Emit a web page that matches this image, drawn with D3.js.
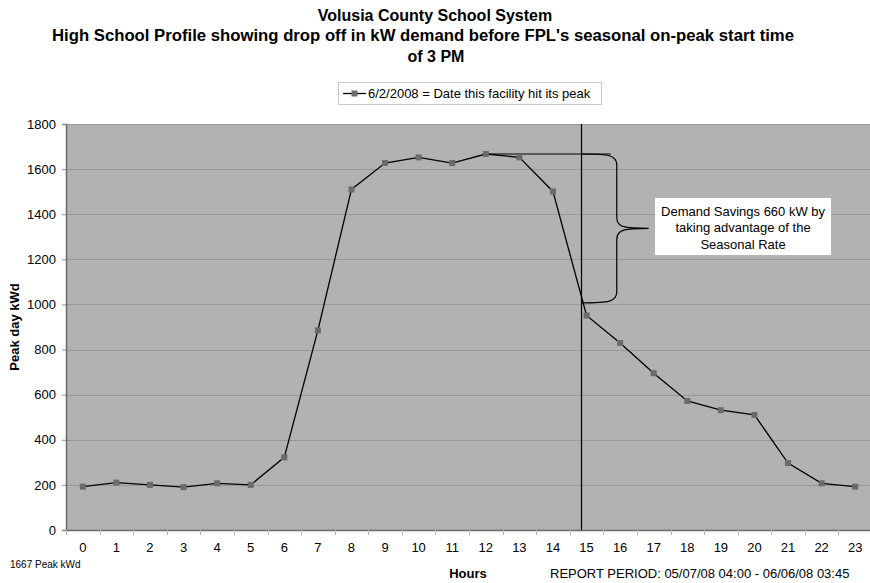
<!DOCTYPE html>
<html>
<head>
<meta charset="utf-8">
<script src="https://cdn.jsdelivr.net/npm/d3@7"></script>
<style>
  html, body { margin: 0; padding: 0; background: #fff; }
  svg { display: block; font-family: "Liberation Sans", Arial, sans-serif; }
</style>
</head>
<body>
<svg id="chart" width="870" height="583"></svg>
<script>
// ---- data ----
const hours = [0,1,2,3,4,5,6,7,8,9,10,11,12,13,14,15,16,17,18,19,20,21,22,23];
const peakDayKWd = [192,210,200,190,207,200,322,885,1510,1627,1652,1627,1667,1652,1501,951,829,695,572,531,510,297,207,192];
const yTicks = [0,200,400,600,800,1000,1200,1400,1600,1800];
const titleLines = [
  "Volusia County School System",
  "High School Profile showing drop off in kW demand before FPL's seasonal on-peak start time",
  "of 3 PM"
];
const legendLabel = "6/2/2008 = Date this facility hit its peak";
const peakValue = 1667;
const savingsValue = 660;
const onPeakStartHour = 14.85;
const annotationLines = ["Demand Savings 660 kW by", "taking advantage of the", "Seasonal Rate"];

// ---- layout ----
const svg = d3.select("#chart");
const plot = { left: 66, top: 124, right: 872, bottom: 530 };

const x = d3.scaleBand().domain(hours).range([plot.left, plot.right]).padding(0);
const xc = h => x(h) + x.bandwidth() / 2;
const xLin = d3.scaleLinear().domain([-0.5, 23.5]).range([plot.left, plot.right]);
const y = d3.scaleLinear().domain([0, 1800]).range([plot.bottom, plot.top]);

// Titles
const titleCx = [435, 423, 436];
svg.append("g").selectAll("text").data(titleLines).join("text")
  .attr("x", (d, i) => titleCx[i]).attr("y", (d, i) => 20.5 + i * 20.5)
  .attr("text-anchor", "middle")
  .attr("font-size", 16).attr("font-weight", "bold").attr("fill", "#000")
  .each(function(d, i) {
    if (i === 1) d3.select(this).attr("textLength", 742).attr("lengthAdjust", "spacingAndGlyphs");
  })
  .text(d => d);

// Legend
const lg = svg.append("g");
lg.append("rect").attr("x", 338.5).attr("y", 82.5).attr("width", 263).attr("height", 22)
  .attr("fill", "#fff").attr("stroke", "#c8c8c8");
lg.append("line").attr("x1", 343).attr("x2", 366).attr("y1", 93.5).attr("y2", 93.5)
  .attr("stroke", "#000").attr("stroke-width", 1.3);
lg.append("rect").attr("x", 351.5).attr("y", 90.5).attr("width", 6).attr("height", 6).attr("fill", "#6b6b6b");
lg.append("text").attr("x", 368).attr("y", 98).attr("font-size", 13).attr("fill", "#000").text(legendLabel);

// Plot background
svg.append("rect").attr("x", plot.left).attr("y", plot.top)
  .attr("width", plot.right - plot.left).attr("height", plot.bottom - plot.top)
  .attr("fill", "#b2b2b2");

// Gridlines
svg.append("g").selectAll("line").data(yTicks.filter(d => d > 0)).join("line")
  .attr("x1", plot.left).attr("x2", plot.right)
  .attr("y1", d => Math.round(y(d)) + 0.5).attr("y2", d => Math.round(y(d)) + 0.5)
  .attr("stroke", "#989898").attr("stroke-width", 1);

// Y axis
const yAxis = d3.axisLeft(y).tickValues(yTicks).tickSize(4).tickPadding(6).tickFormat(d3.format("d"));
const gy = svg.append("g").attr("transform", `translate(${plot.left},0)`).call(yAxis);
gy.select(".domain").attr("stroke", "#6a6a6a").attr("stroke-width", 1.5);
gy.selectAll(".tick line").attr("stroke", "#909090");
gy.selectAll(".tick text").attr("font-size", 13).attr("fill", "#000")
  .attr("font-family", "Liberation Sans, Arial, sans-serif");

// X axis
const xAxis = d3.axisBottom(x).tickSize(0).tickPadding(13);
const gx = svg.append("g").attr("transform", `translate(0,${plot.bottom})`).call(xAxis);
gx.select(".domain").attr("stroke", "#6a6a6a").attr("stroke-width", 1.5);
gx.selectAll(".tick text").attr("font-size", 13).attr("fill", "#000")
  .attr("font-family", "Liberation Sans, Arial, sans-serif");
// Excel-style ticks between categories
gx.append("g").selectAll("line").data(hours).join("line")
  .attr("x1", d => Math.round(x(d)) + 0.5).attr("x2", d => Math.round(x(d)) + 0.5)
  .attr("y1", 0).attr("y2", 5).attr("stroke", "#b8b8b8");

// Axis titles
svg.append("text").attr("transform", `translate(19,${(plot.top + plot.bottom) / 2}) rotate(-90)`)
  .attr("text-anchor", "middle").attr("font-size", 13).attr("font-weight", "bold").text("Peak day kWd");
svg.append("text").attr("x", 468).attr("y", 578).attr("text-anchor", "middle")
  .attr("font-size", 13).attr("font-weight", "bold").text("Hours");
svg.append("text").attr("x", 550).attr("y", 578).attr("font-size", 13)
  .text("REPORT PERIOD: 05/07/08 04:00 - 06/06/08 03:45");
svg.append("text").attr("x", 10).attr("y", 568).attr("font-size", 10)
  .text(peakValue + " Peak kWd");

// Peak reference line
svg.append("line")
  .attr("x1", xc(12)).attr("x2", xLin(15.72))
  .attr("y1", y(peakValue)).attr("y2", y(peakValue))
  .attr("stroke", "#000").attr("stroke-width", 1.2);

// On-peak start vertical line
svg.append("line")
  .attr("x1", xLin(onPeakStartHour)).attr("x2", xLin(onPeakStartHour))
  .attr("y1", plot.top).attr("y2", plot.bottom)
  .attr("stroke", "#000").attr("stroke-width", 1.2);

// Data line
svg.append("path").datum(hours)
  .attr("fill", "none").attr("stroke", "#000").attr("stroke-width", 1.3)
  .attr("d", d3.line().x(h => xc(h)).y((h, i) => y(peakDayKWd[i])));

// Markers
svg.append("g").selectAll("rect").data(hours).join("rect")
  .attr("x", h => xc(h) - 3).attr("y", (h, i) => y(peakDayKWd[i]) - 3)
  .attr("width", 6).attr("height", 6).attr("fill", "#6b6b6b");

// Brace
const bx0 = xLin(onPeakStartHour), bx1 = xLin(15.9), bx2 = xLin(16.85);
const by0 = y(peakValue), by1 = y(peakValue - savingsValue), bym = (by0 + by1) / 2;
const r = 11;
const bracePath = [
  `M${bx0},${by0}`,
  `C${bx1 - 8},${by0} ${bx1},${by0 + 1} ${bx1},${by0 + r}`,
  `L${bx1},${bym - r}`,
  `C${bx1},${bym - 1} ${bx1 + 8},${bym} ${bx2},${bym}`,
  `M${bx2},${bym}`,
  `C${bx1 + 8},${bym} ${bx1},${bym + 1} ${bx1},${bym + r}`,
  `L${bx1},${by1 - r}`,
  `C${bx1},${by1 - 1} ${bx1 - 8},${by1} ${bx0},${by1}`
].join(" ");
svg.append("path").attr("d", bracePath).attr("fill", "none").attr("stroke", "#000").attr("stroke-width", 1.2);

// Annotation box
const ax0 = xLin(17.04), ax1 = xLin(22.28), ay0 = y(1472), ay1 = y(1219);
svg.append("rect").attr("x", ax0).attr("y", ay0).attr("width", ax1 - ax0).attr("height", ay1 - ay0)
  .attr("fill", "#fff");
svg.append("g").selectAll("text").data(annotationLines).join("text")
  .attr("x", (ax0 + ax1) / 2).attr("y", (d, i) => ay0 + 18 + i * 16.5)
  .attr("text-anchor", "middle").attr("font-size", 13).text(d => d);
</script>
</body>
</html>
